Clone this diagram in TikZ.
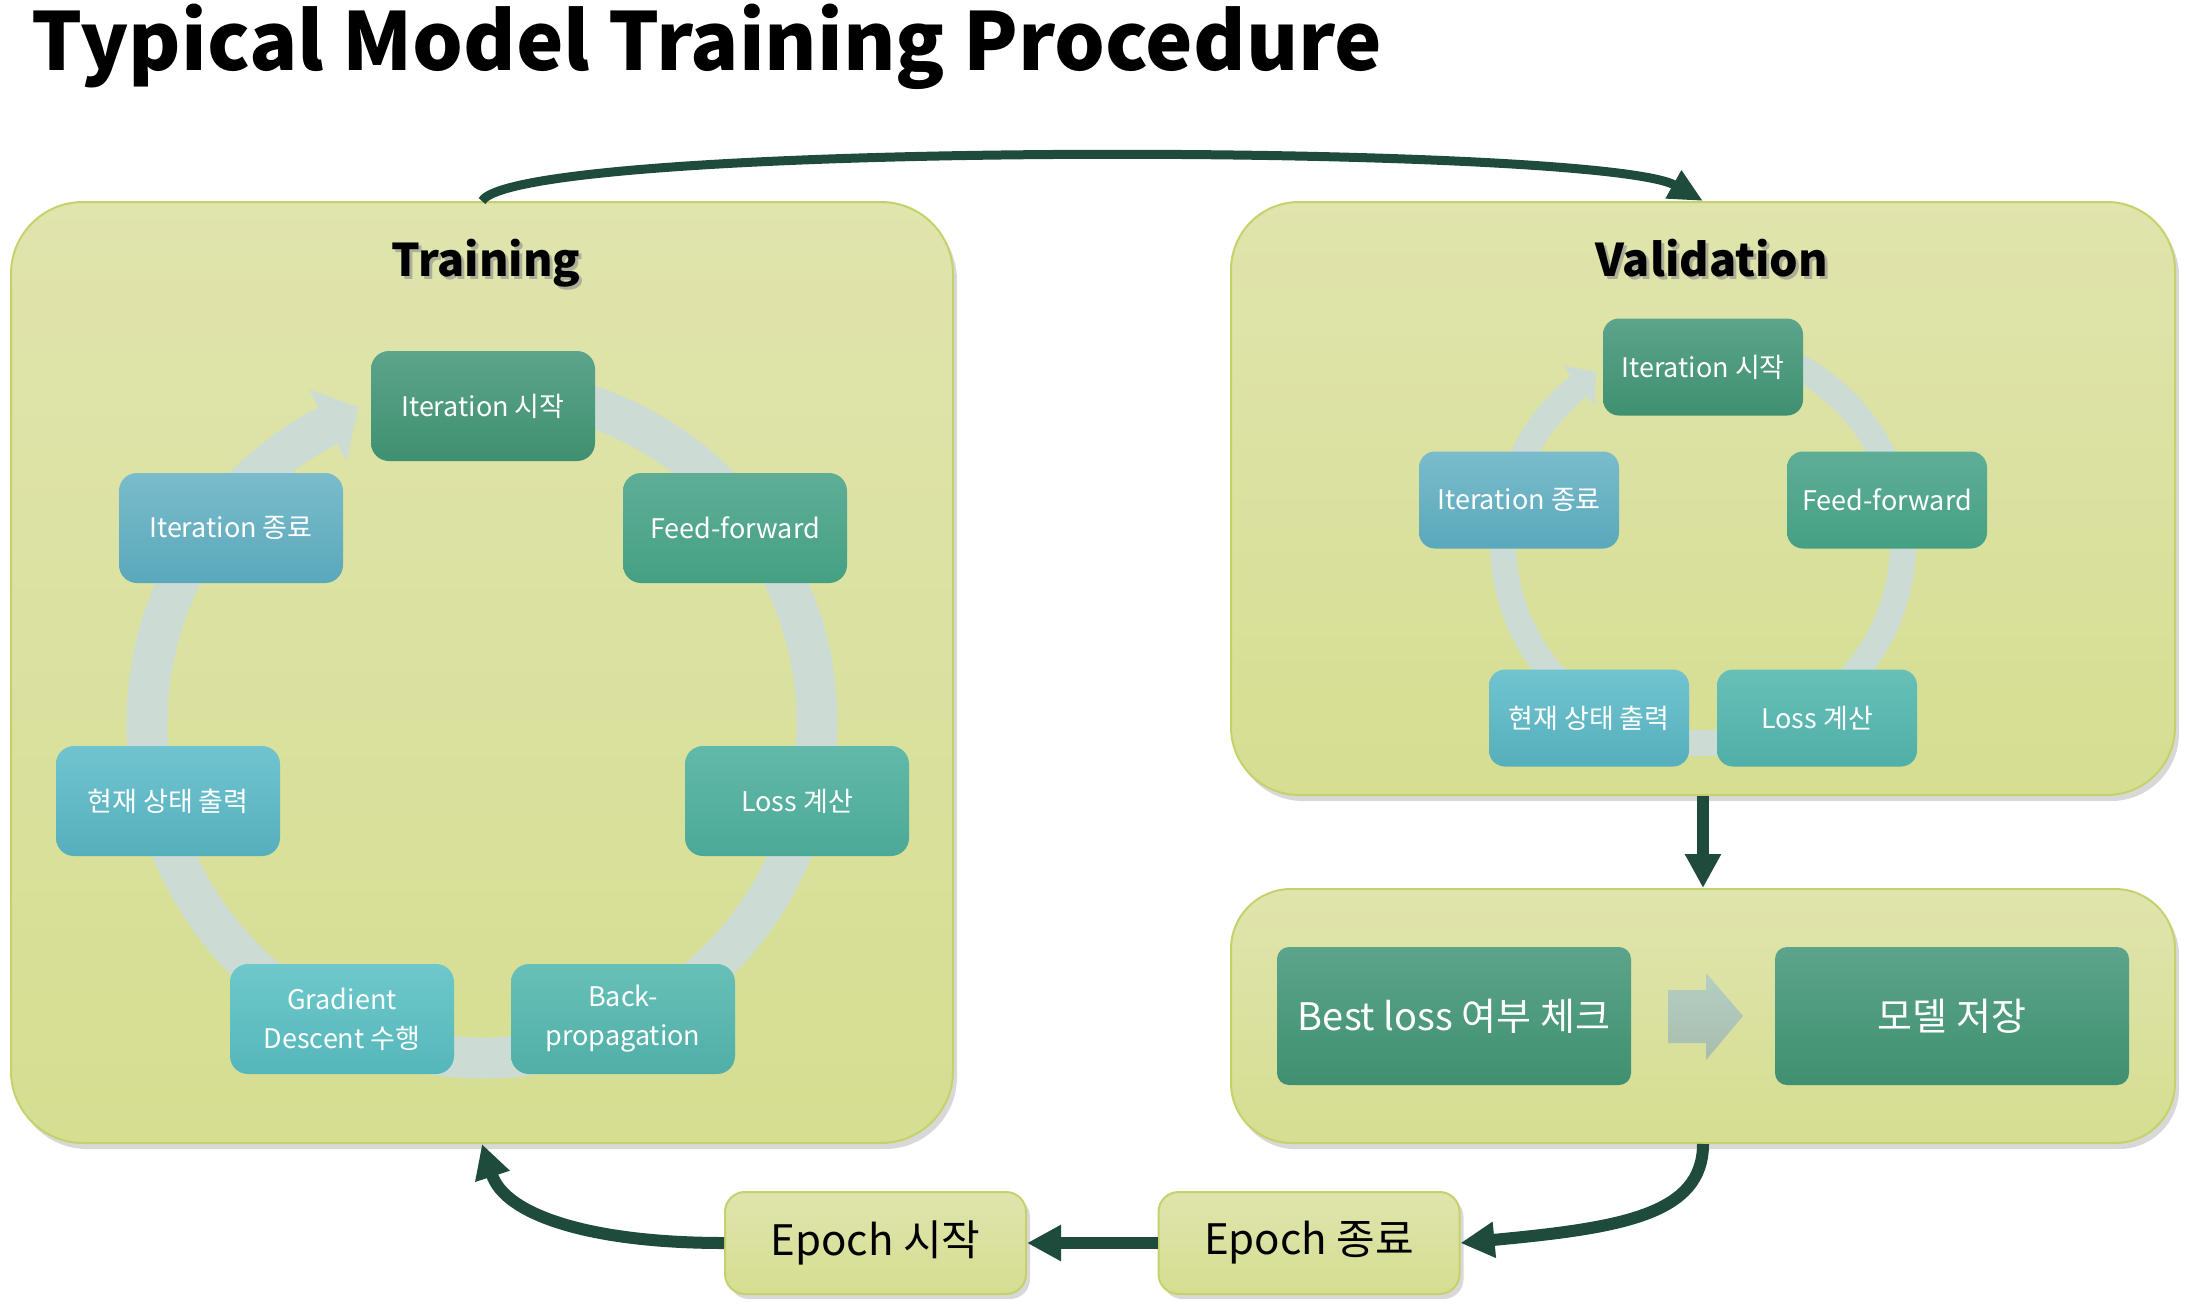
\documentclass[tikz,border=0pt]{standalone}
\usepackage{fontspec}
\setmainfont{Noto Sans CJK KR}
\usetikzlibrary{arrows.meta,shadows,calc}
\definecolor{dk}{HTML}{1E4B3C}
\definecolor{ringc}{HTML}{CCDCD5}
\definecolor{boxtop}{HTML}{E0E4AD}
\definecolor{boxbot}{HTML}{D5DE91}
\definecolor{boxline}{HTML}{C5D26C}
\definecolor{gat}{HTML}{5CA48B}\definecolor{gab}{HTML}{3F9070}
\definecolor{gbt}{HTML}{5EAE97}\definecolor{gbb}{HTML}{45A083}
\definecolor{gct}{HTML}{62B9A9}\definecolor{gcb}{HTML}{4CA997}
\definecolor{gdt}{HTML}{67C0B8}\definecolor{gdb}{HTML}{50AFA8}
\definecolor{get}{HTML}{6EC8CB}\definecolor{geb}{HTML}{55B7BA}
\definecolor{gft}{HTML}{70C4D0}\definecolor{gfb}{HTML}{56AFBC}
\definecolor{ggt}{HTML}{7ABCCB}\definecolor{ggb}{HTML}{5AA8BB}
\definecolor{bat}{HTML}{B6CEC3}\definecolor{bab}{HTML}{A7BDAF}
\tikzset{
  bigbox/.style={draw=boxline, line width=1pt, top color=boxtop, bottom color=boxbot, inner sep=0pt,
    drop shadow={shadow xshift=2pt, shadow yshift=-3pt, opacity=0.3}},
  cyc/.style={rounded corners=9pt, minimum width=112pt, minimum height=55pt, text=white,
    font=\fontsize{13.5}{19.5}\selectfont, align=center, inner sep=0pt},
  vcyc/.style={rounded corners=8pt, minimum width=100pt, minimum height=48.5pt, text=white,
    font=\fontsize{13.5}{19.5}\selectfont, align=center, inner sep=0pt},
  bestbox/.style={rounded corners=6pt, minimum width=177pt, minimum height=69pt, text=white,
    font=\fontsize{19}{23}\selectfont, inner sep=0pt, top color=gat, bottom color=gab},
  epochbox/.style={draw=boxline, line width=1pt, rounded corners=10pt, top color=boxtop, bottom color=boxbot,
    minimum width=150.5pt, minimum height=51pt, font=\fontsize{21}{25}\selectfont, inner sep=0pt,
    drop shadow={shadow xshift=2pt, shadow yshift=-2.5pt, opacity=0.3}},
  ca/.style={top color=gat, bottom color=gab},
  cb/.style={top color=gbt, bottom color=gbb},
  cc/.style={top color=gct, bottom color=gcb},
  cd/.style={top color=gdt, bottom color=gdb},
  ce/.style={top color=get, bottom color=geb},
  cf/.style={top color=gft, bottom color=gfb},
  cg/.style={top color=ggt, bottom color=ggb},
  hdtitle/.style={font=\fontsize{22.5}{27}\selectfont\bfseries, anchor=base},
  conn/.style={draw=dk, line width=6pt, -{Triangle[width=17pt,length=17pt]}}
}
\begin{document}
\begin{tikzpicture}[x=0.5pt, y=-0.5pt]
\fill[white] (0,0) rectangle (2186,1308);
\useasboundingbox (0,0) rectangle (2186,1308);

\node[anchor=base west, font=\fontsize{40}{48}\selectfont\bfseries, inner sep=0pt] (title) at (31,70) {Typical Model Training Procedure};

% big boxes
\node[bigbox, rounded corners=36pt, minimum width=471pt, minimum height=470.5pt] (train) at (482,672.5) {};
\node[bigbox, rounded corners=34pt, minimum width=472pt, minimum height=296.5pt] (valid) at (1703,498.5) {};
\node[bigbox, rounded corners=30pt, minimum width=472pt, minimum height=127pt] (best) at (1703,1016) {};

\node[hdtitle, text=black!45, opacity=0.6] (trainsh) at (489,279) {Training};
\node[hdtitle] (traint) at (486,276) {Training};
\node[hdtitle, text=black!45, opacity=0.6] (validsh) at (1715,279) {Validation};
\node[hdtitle] (validt) at (1712,276) {Validation};

% training ring
\coordinate (tc) at (482,723);
\draw[ringc, line width=20.5pt] ($(tc)+(80:167.5pt)$) arc[start angle=80, end angle=-242.6, radius=167.5pt];
\fill[ringc] ($(tc)+(117.4:147.5pt)$) -- ($(tc)+(111.4:169.5pt)$) -- ($(tc)+(117.4:188pt)$) -- cycle;

% validation ring
\coordinate (vc) at (1703,543);
\draw[ringc, line width=13pt] ($(vc)+(80:100pt)$) arc[start angle=80, end angle=-231.7, radius=100pt];
\fill[ringc] ($(vc)+(128.3:87.5pt)$) -- ($(vc)+(122:101pt)$) -- ($(vc)+(128.3:113pt)$) -- cycle;

% training nodes
\node[cyc, ca] (t1) at (483,406) {Iteration 시작};
\node[cyc, cb] (t2) at (735,528) {Feed-forward};
\node[cyc, cc] (t3) at (797,801) {Loss 계산};
\node[cyc, cd] (t4) at (623,1019) {Back-\\propagation};
\node[cyc, ce] (t5) at (342,1019) {Gradient\\Descent 수행};
\node[cyc, cf] (t6) at (168,801) {현재 상태 출력};
\node[cyc, cg] (t7) at (231,528) {Iteration 종료};

% validation nodes
\node[vcyc, ca] (v1) at (1703,367) {Iteration 시작};
\node[vcyc, cb] (v2) at (1887,500) {Feed-forward};
\node[vcyc, cd] (v3) at (1817,718) {Loss 계산};
\node[vcyc, cf] (v4) at (1589,718) {현재 상태 출력};
\node[vcyc, cg] (v5) at (1519,500) {Iteration 종료};

% best loss
\node[bestbox] (b1) at (1454,1016) {Best loss 여부 체크};
\node[bestbox] (b2) at (1952,1016) {모델 저장};
\shade[top color=bat, bottom color=bab] (1668,990) -- (1706,990) -- (1706,973) -- (1743,1016) -- (1706,1060) -- (1706,1043) -- (1668,1043) -- cycle;

% epoch boxes
\node[epochbox] (e1) at (875.5,1243) {Epoch 시작};
\node[epochbox] (e2) at (1309,1243) {Epoch 종료};

% connectors
\draw[draw=dk, line width=4.5pt, -{Triangle[width=15pt,length=17pt]}] (train.north) .. controls (520,140) and (1600,143) .. (valid.north);
\draw[conn] (valid.south) -- (best.north);
\draw[conn] (best.south) .. controls (1703,1215) and (1620,1228) .. (e2.east);
\draw[conn] (e2.west) -- (e1.east);
\draw[conn] (e1.west) .. controls (590,1243) and (505,1215) .. (train.south);
\end{tikzpicture}
\end{document}
